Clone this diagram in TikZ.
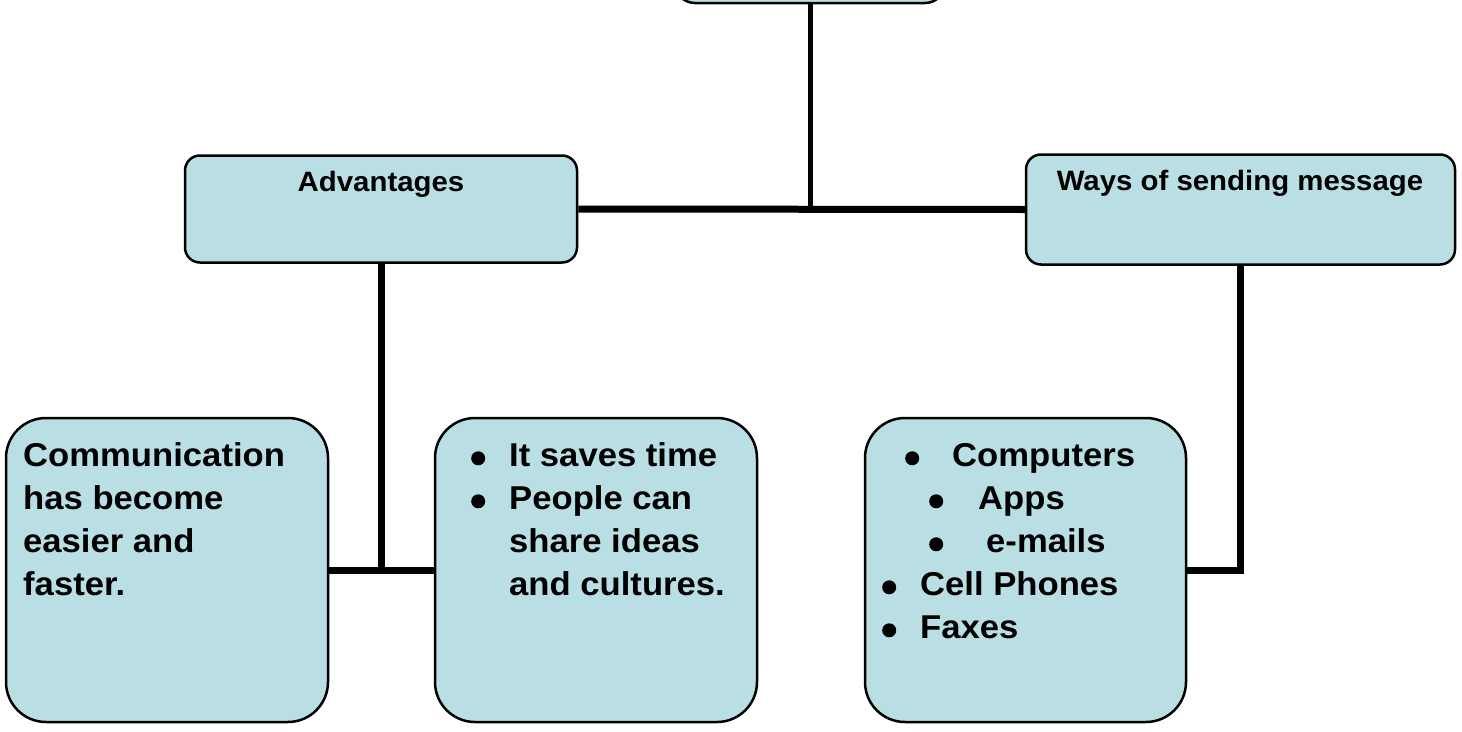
\documentclass[tikz,border=0pt]{standalone}
\usepackage{fontspec}
\newfontfamily\boxfont{Liberation Sans}[FakeStretch=1.05]
\definecolor{boxblue}{RGB}{185,223,228}
\newcommand\bulletdot{\tikz[baseline=-8pt]\fill (0pt,0pt) circle (7pt);}
\newcommand\bul[3]{\hspace*{#1pt}\makebox[0pt]{\bulletdot}\hspace*{\dimexpr#2pt-#1pt\relax}#3}
\begin{document}
\begin{tikzpicture}[x=1pt, y=-1pt,
  box/.style={draw, line width=2.5pt, fill=boxblue, rounded corners=#1, inner sep=0},
  box/.default=15pt,
  head/.style={font=\boxfont\bfseries\fontsize{28}{34}\selectfont, inner sep=0, anchor=base},
  body/.style={font=\boxfont\bfseries\fontsize{33}{43}\selectfont, inner sep=0, anchor=north west, align=left},
  link/.style={line width=7pt}]
\useasboundingbox (0,0) rectangle (1462,731);
\clip (0,0) rectangle (1462,731);
\node[box=20pt, minimum width=270pt, minimum height=90pt] (top) at (810,-42) {};
\node[box, minimum width=392pt, minimum height=107pt] (adv) at (381,209) {};
\node[box, minimum width=429pt, minimum height=110pt] (ways) at (1240.5,209.5) {};
\node[box=40pt, minimum width=322pt, minimum height=304pt] (comm) at (167,570) {};
\node[box=40pt, minimum width=322pt, minimum height=304pt] (gain) at (596,570) {};
\node[box=40pt, minimum width=321pt, minimum height=304pt] (media) at (1025.5,570) {};
\node[head] (advt) at (381,191) {Advantages};
\node[head] (wayst) at (1240,190) {Ways of sending message};
\node[body] (commt) at (23,436) {\strut Communication\\has become\\easier and\\faster.};
\node[body] (gaint) at (460,436) {\strut\bul{18}{49}{It saves time}\\\bul{18}{49}{People can}\\
  \hspace*{49pt}share ideas\\\hspace*{49pt}and cultures.};
\node[body] (mediat) at (880,436) {\strut\bul{32}{72}{Computers}\\\bul{56}{98}{Apps}\\
  \bul{56}{106}{e-mails}\\\bul{9}{40}{Cell Phones}\\\bul{9}{40}{Faxes}};
\draw[line width=5pt] (top.south) -- (top.south |- adv.east);
\draw[link] (adv.east) -- (ways.west);
\draw[link] (adv.south) -- (adv.south |- comm.east);
\draw[link] (comm.east) -- (gain.west);
\draw[link] (ways.south) |- (media.east);
\end{tikzpicture}
\end{document}
